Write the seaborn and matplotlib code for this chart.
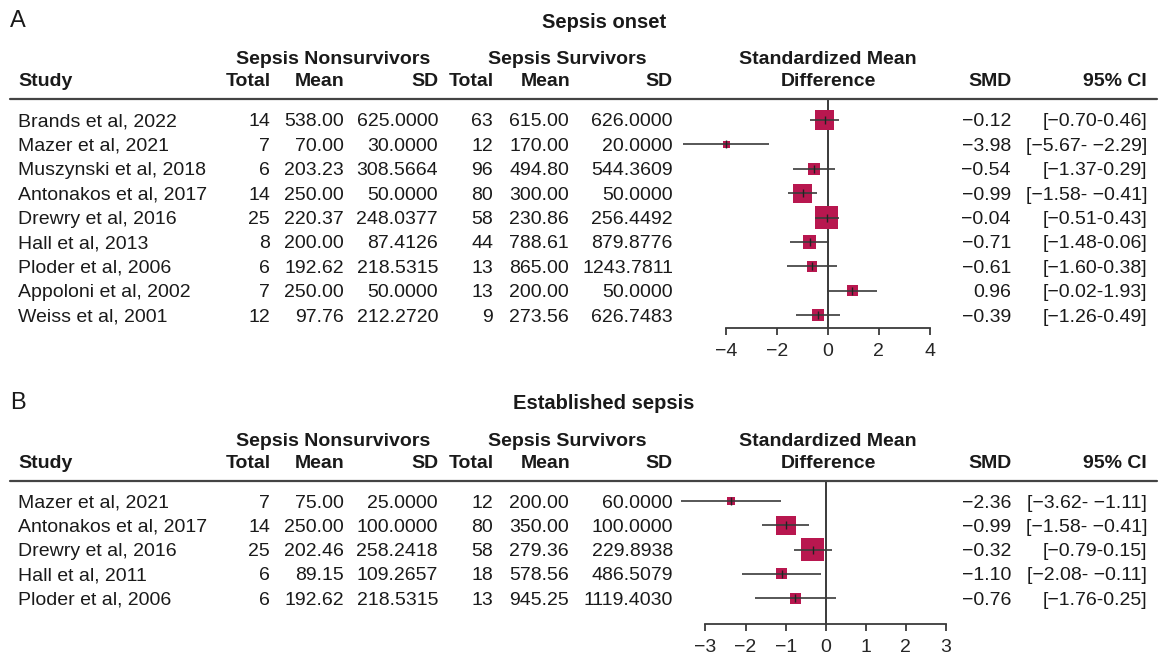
import matplotlib
matplotlib.use("Agg")
import matplotlib.pyplot as plt
from matplotlib.lines import Line2D
import numpy as np
import pandas as pd
import seaborn as sns

# ---- data: panel A (sepsis onset) ----
onset_study = ["Brands et al, 2022", "Mazer et al, 2021", "Muszynski et al, 2018",
               "Antonakos et al, 2017", "Drewry et al, 2016", "Hall et al, 2013",
               "Ploder et al, 2006", "Appoloni et al, 2002", "Weiss et al, 2001"]
onset_n1 = [14, 7, 6, 14, 25, 8, 6, 7, 12]
onset_mean1 = [538.00, 70.00, 203.23, 250.00, 220.37, 200.00, 192.62, 250.00, 97.76]
onset_sd1 = [625.0000, 30.0000, 308.5664, 50.0000, 248.0377, 87.4126, 218.5315, 50.0000, 212.2720]
onset_n2 = [63, 12, 96, 80, 58, 44, 13, 13, 9]
onset_mean2 = [615.00, 170.00, 494.80, 300.00, 230.86, 788.61, 865.00, 200.00, 273.56]
onset_sd2 = [626.0000, 20.0000, 544.3609, 50.0000, 256.4492, 879.8776, 1243.7811, 50.0000, 626.7483]
onset_smd = [-0.12, -3.98, -0.54, -0.99, -0.04, -0.71, -0.61, 0.96, -0.39]
onset_lo = [-0.70, -5.67, -1.37, -1.58, -0.51, -1.48, -1.60, -0.02, -1.26]
onset_hi = [0.46, -2.29, 0.29, -0.41, 0.43, 0.06, 0.38, 1.93, 0.49]
onset_weight = [18.5, 2.0, 7.6, 18.5, 26.6, 9.1, 5.4, 6.2, 6.6]
onset_ticks = [-4, -2, 0, 2, 4]

# ---- data: panel B (established sepsis) ----
est_study = ["Mazer et al, 2021", "Antonakos et al, 2017", "Drewry et al, 2016",
             "Hall et al, 2011", "Ploder et al, 2006"]
est_n1 = [7, 14, 25, 6, 6]
est_mean1 = [75.00, 250.00, 202.46, 89.15, 192.62]
est_sd1 = [25.0000, 100.0000, 258.2418, 109.2657, 218.5315]
est_n2 = [12, 80, 58, 18, 13]
est_mean2 = [200.00, 350.00, 279.36, 578.56, 945.25]
est_sd2 = [60.0000, 100.0000, 229.8938, 486.5079, 1119.4030]
est_smd = [-2.36, -0.99, -0.32, -1.10, -0.76]
est_lo = [-3.62, -1.58, -0.79, -2.08, -1.76]
est_hi = [-1.11, -0.41, 0.15, -0.11, 0.25]
est_weight = [5.8, 30.3, 43.5, 10.2, 10.2]
est_ticks = [-3, -2, -1, 0, 1, 2, 3]

W, H = 1160, 660
BOX = "#B8174F"
LINE = "#3a3a3a"
FS = 14

sns.set_theme(style="white")
plt.rcParams["font.family"] = ["Liberation Sans", "DejaVu Sans"]


def fmt(v):
    return f"{v:.2f}".replace("-", "\u2212")


def fmt_ci(lo, hi):
    sep = "- " if hi < 0 else "-"
    return f"[{fmt(lo)}{sep}{fmt(hi)}]"


def put(fig, x, y, s, ha="left", bold=False, size=FS):
    # va="center" centres the full bbox (with descent), nudge down a little
    fig.text(x / W, 1 - (y + 2) / H, s, ha=ha, va="center", fontsize=size,
             fontweight="bold" if bold else "normal", color="#1a1a1a")


def panel(fig, top, letter, title, df, ticks, xlim, ax_bottom, y0, dy):
    put(fig, 10, top, letter, size=17)
    put(fig, 604, top + 1, title, ha="center", bold=True, size=14.5)
    h1, h2 = top + 39, top + 61
    put(fig, 333, h1, "Sepsis Nonsurvivors", ha="center", bold=True)
    put(fig, 567, h1, "Sepsis Survivors", ha="center", bold=True)
    put(fig, 828, h1, "Standardized Mean", ha="center", bold=True)
    put(fig, 18, h2, "Study", bold=True)
    for x, s in [(271, "Total"), (345, "Mean"), (438, "SD"), (494, "Total"),
                 (570, "Mean"), (672, "SD"), (1012, "SMD"), (1147, "95% CI")]:
        put(fig, x, h2, s, ha="right", bold=True)
    put(fig, 828, h2, "Difference", ha="center", bold=True)
    line_y = top + 80
    fig.add_artist(Line2D([10 / W, 1157 / W], [1 - line_y / H] * 2,
                          color="#444444", lw=1.6))

    for i, r in df.iterrows():
        y = y0 + dy * i
        put(fig, 18, y, r["study"])
        put(fig, 270, y, f"{r['n1']:d}", ha="right")
        put(fig, 344, y, f"{r['mean1']:.2f}", ha="right")
        put(fig, 438, y, f"{r['sd1']:.4f}", ha="right")
        put(fig, 493, y, f"{r['n2']:d}", ha="right")
        put(fig, 569, y, f"{r['mean2']:.2f}", ha="right")
        put(fig, 673, y, f"{r['sd2']:.4f}", ha="right")
        put(fig, 1011, y, fmt(r["smd"]), ha="right")
        put(fig, 1147, y, fmt_ci(r["lo"], r["hi"]), ha="right")

    # forest axes
    left, right = 675, 968
    ax = fig.add_axes([left / W, 1 - ax_bottom / H, (right - left) / W,
                       (ax_bottom - line_y) / H])
    n = len(df)
    ax.set_xlim(*xlim)
    ylo = (ax_bottom - (y0 + dy * (n - 1))) / dy
    yhi = (y0 - line_y) / dy
    ax.set_ylim(n - 1 + ylo, -yhi)
    ax.axvline(0, color=LINE, lw=1.4, zorder=1)
    side_pt = 23 * 72 / 100 * np.sqrt(df["weight"] / df["weight"].max())
    sns.scatterplot(x=df["smd"], y=df.index, marker="s", s=side_pt ** 2,
                    color=BOX, linewidth=0, ax=ax, zorder=2, legend=False)
    ax.hlines(df.index, df["lo"], df["hi"], color=LINE, lw=1.2, zorder=3)
    ax.scatter(df["smd"], df.index, marker="|", s=30, color="#222222",
               linewidths=1.0, zorder=4)
    for sp in ["top", "left", "right"]:
        ax.spines[sp].set_visible(False)
    ax.spines["bottom"].set_bounds(ticks[0], ticks[-1])
    ax.spines["bottom"].set_color(LINE)
    ax.spines["bottom"].set_linewidth(1.3)
    ax.set_xticks(ticks)
    ax.set_xticklabels([str(t).replace("-", "\u2212") for t in ticks])
    ax.set_yticks([])
    ax.tick_params(axis="x", direction="out", length=5, width=1.3,
                   color=LINE, pad=5.5, labelsize=FS, bottom=True)
    ax.set_xlabel("")
    ax.set_ylabel("")
    ax.patch.set_alpha(0)


def make_df(study, n1, m1, s1, n2, m2, s2, smd, lo, hi, w):
    return pd.DataFrame({"study": study, "n1": n1, "mean1": m1, "sd1": s1,
                         "n2": n2, "mean2": m2, "sd2": s2, "smd": smd,
                         "lo": lo, "hi": hi, "weight": w})


fig = plt.figure(figsize=(W / 100, H / 100), dpi=100)

onset = make_df(onset_study, onset_n1, onset_mean1, onset_sd1, onset_n2,
                onset_mean2, onset_sd2, onset_smd, onset_lo, onset_hi, onset_weight)
est = make_df(est_study, est_n1, est_mean1, est_sd1, est_n2, est_mean2,
              est_sd2, est_smd, est_lo, est_hi, est_weight)

panel(fig, 19, "A", "Sepsis onset", onset, onset_ticks, (-6.0, 5.51), 328, 120, 24.4)
panel(fig, 401, "B", "Established sepsis", est, est_ticks, (-3.76, 3.55), 624, 501, 24.3)

fig.savefig("out.png", dpi=100)
plt.close(fig)
